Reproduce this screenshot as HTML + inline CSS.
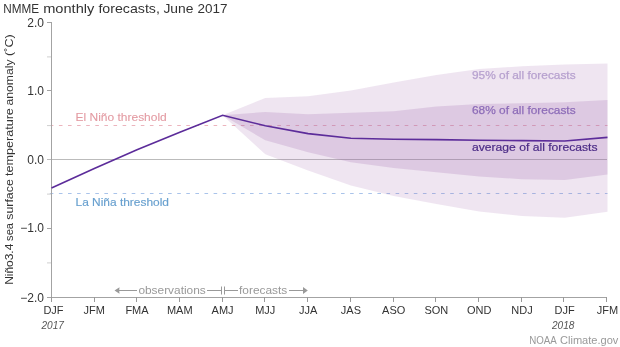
<!DOCTYPE html>
<html><head><meta charset="utf-8"><style>
html,body{margin:0;padding:0;background:#fff;width:620px;height:347px;overflow:hidden}
svg{display:block;will-change:transform;font-family:"Liberation Sans",sans-serif}
</style></head><body>
<svg width="620" height="347" viewBox="0 0 620 347">
<rect width="620" height="347" fill="#fff"/>
<line x1="47" y1="159.5" x2="607" y2="159.5" stroke="#bbb" stroke-width="1"/>
<line x1="49.8" y1="125.5" x2="607.5" y2="125.5" stroke="#ecb4bd" stroke-width="1" stroke-dasharray="3.6 5.5"/>
<line x1="49.8" y1="193.5" x2="607.5" y2="193.5" stroke="#a9c3ea" stroke-width="1" stroke-dasharray="3.6 5.5"/>
<polygon points="222.6,115.3 265.3,98.0 308.1,96.2 350.9,90.4 393.7,82.4 436.4,74.9 479.2,69.0 522.0,66.3 564.7,64.6 607.5,63.5 607.5,211.8 564.7,217.8 522.0,216.0 479.2,211.4 436.4,204.0 393.7,196.0 350.9,185.4 308.1,170.4 265.3,154.3 222.6,115.3" fill="#9e65ac" fill-opacity="0.17"/>
<polygon points="222.6,115.3 265.3,112.0 308.1,114.3 350.9,112.8 393.7,111.3 436.4,106.5 479.2,104.1 522.0,103.2 564.7,102.3 607.5,99.9 607.5,174.5 564.7,179.9 522.0,179.2 479.2,176.5 436.4,172.2 393.7,168.0 350.9,162.3 308.1,152.2 265.3,140.3 222.6,115.3" fill="#9e65ac" fill-opacity="0.217"/>
<g stroke="#a3a3a3" stroke-width="1" fill="none">
<line x1="51.5" y1="22" x2="51.5" y2="297.5"/>
<line x1="47" y1="297.5" x2="607" y2="297.5"/>
<line x1="47" y1="22.5" x2="51.5" y2="22.5"/>
<line x1="47" y1="90.5" x2="51.5" y2="90.5"/>
<line x1="47" y1="228.5" x2="51.5" y2="228.5"/>
</g>
<g stroke="#cfcfcf" stroke-width="1">
<line x1="47" y1="56.9" x2="51" y2="56.9"/>
<line x1="47" y1="125.6" x2="51" y2="125.6"/>
<line x1="47" y1="194.1" x2="51" y2="194.1"/>
<line x1="47" y1="262.9" x2="51" y2="262.9"/>
</g>
<g stroke="#999" stroke-width="1"><line x1="51.5" y1="297" x2="51.5" y2="302"/><line x1="94.5" y1="297" x2="94.5" y2="302"/><line x1="136.5" y1="297" x2="136.5" y2="302"/><line x1="179.5" y1="297" x2="179.5" y2="302"/><line x1="222.5" y1="297" x2="222.5" y2="302"/><line x1="264.5" y1="297" x2="264.5" y2="302"/><line x1="307.5" y1="297" x2="307.5" y2="302"/><line x1="350.5" y1="297" x2="350.5" y2="302"/><line x1="393.5" y1="297" x2="393.5" y2="302"/><line x1="435.5" y1="297" x2="435.5" y2="302"/><line x1="478.5" y1="297" x2="478.5" y2="302"/><line x1="521.5" y1="297" x2="521.5" y2="302"/><line x1="563.5" y1="297" x2="563.5" y2="302"/><line x1="606.5" y1="297" x2="606.5" y2="302"/></g>
<polyline points="51.5,188.0 94.3,168.6 137.0,149.8 179.8,132.2 222.6,115.3 265.3,125.8 308.1,133.6 350.9,138.2 393.7,139.3 436.4,139.6 479.2,140.2 522.0,140.6 564.7,141.0 607.5,137.4" fill="none" stroke="#5c2c9a" stroke-width="1.6" stroke-linejoin="miter"/>
<g font-size="13.5" fill="#333" lengthAdjust="spacingAndGlyphs">
<text x="3.2" y="12.8" textLength="35.8" lengthAdjust="spacingAndGlyphs">NMME</text>
<text x="43.2" y="12.8" textLength="51.2" lengthAdjust="spacingAndGlyphs">monthly</text>
<text x="98.4" y="12.8" textLength="61.5" lengthAdjust="spacingAndGlyphs">forecasts,</text>
<text x="163.4" y="12.8" textLength="30" lengthAdjust="spacingAndGlyphs">June</text>
<text x="197.4" y="12.8" textLength="30" lengthAdjust="spacingAndGlyphs">2017</text>
</g>
<g font-size="12" fill="#333" text-anchor="end">
<text x="44" y="27">2.0</text>
<text x="44" y="95.1">1.0</text>
<text x="44" y="164.4">0.0</text>
<text x="44" y="232.2">−1.0</text>
<text x="44" y="302">−2.0</text>
</g>
<g font-size="11.2" fill="#333">
<text transform="translate(12.6,284.84) rotate(-90)" textLength="41.18" lengthAdjust="spacingAndGlyphs">Niño3.4</text>
<text transform="translate(12.6,240.88) rotate(-90)" textLength="17.84" lengthAdjust="spacingAndGlyphs">sea</text>
<text transform="translate(12.6,219.76) rotate(-90)" textLength="40.56" lengthAdjust="spacingAndGlyphs">surface</text>
<text transform="translate(12.6,175.96) rotate(-90)" textLength="67.80" lengthAdjust="spacingAndGlyphs">temperature</text>
<text transform="translate(12.6,105.38) rotate(-90)" textLength="45.84" lengthAdjust="spacingAndGlyphs">anomaly</text>
<text transform="translate(12.6,55.88) rotate(-90)" textLength="21.68" lengthAdjust="spacingAndGlyphs">(˚C)</text>
</g>
<g font-size="11" fill="#333"><text x="53.5" y="314" text-anchor="middle">DJF</text><text x="94.3" y="314" text-anchor="middle">JFM</text><text x="137.0" y="314" text-anchor="middle">FMA</text><text x="179.8" y="314" text-anchor="middle">MAM</text><text x="222.6" y="314" text-anchor="middle">AMJ</text><text x="265.3" y="314" text-anchor="middle">MJJ</text><text x="308.1" y="314" text-anchor="middle">JJA</text><text x="350.9" y="314" text-anchor="middle">JAS</text><text x="393.7" y="314" text-anchor="middle">ASO</text><text x="436.4" y="314" text-anchor="middle">SON</text><text x="479.2" y="314" text-anchor="middle">OND</text><text x="522.0" y="314" text-anchor="middle">NDJ</text><text x="564.7" y="314" text-anchor="middle">DJF</text><text x="607.5" y="314" text-anchor="middle">JFM</text></g>
<g font-size="11" fill="#555" font-style="italic">
<text x="41.5" y="329" textLength="22.5" lengthAdjust="spacingAndGlyphs">2017</text>
<text x="552" y="328.5" textLength="22.5" lengthAdjust="spacingAndGlyphs">2018</text>
</g>
<text x="75.5" y="121.3" font-size="11.7" fill="#e39aa2" stroke="#e39aa2" stroke-width="0.08" textLength="91.3" lengthAdjust="spacingAndGlyphs">El Niño threshold</text>
<text x="75.5" y="206.4" font-size="11.7" fill="#68a0cf" stroke="#68a0cf" stroke-width="0.15" textLength="93.5" lengthAdjust="spacingAndGlyphs">La Niña threshold</text>
<text x="472" y="79.2" font-size="11.5" fill="#b7a1cf" stroke="#b7a1cf" stroke-width="0.25" textLength="103.6" lengthAdjust="spacingAndGlyphs">95% of all forecasts</text>
<text x="472" y="114.3" font-size="11.5" fill="#8d6cb8" stroke="#8d6cb8" stroke-width="0.25" textLength="103.6" lengthAdjust="spacingAndGlyphs">68% of all forecasts</text>
<text x="472" y="150.8" font-size="11.5" fill="#4b2b86" stroke="#4b2b86" stroke-width="0.2" textLength="125.5" lengthAdjust="spacingAndGlyphs">average of all forecasts</text>
<g stroke="#999" stroke-width="1" fill="none">
<line x1="116" y1="290.5" x2="137" y2="290.5"/>
<line x1="207" y1="290.5" x2="221.5" y2="290.5"/>
<line x1="224.5" y1="290.5" x2="238" y2="290.5"/>
<line x1="289" y1="290.5" x2="304" y2="290.5"/>
<line x1="221.5" y1="286.5" x2="221.5" y2="294.5"/>
<line x1="224.5" y1="286.5" x2="224.5" y2="294.5"/>
</g>
<polygon points="114.5,290.5 119.5,287.2 119.2,290.5 119.5,293.8" fill="#999"/>
<polygon points="307.8,290.5 303,287.1 303,293.9" fill="#999"/>
<g font-size="11.5" fill="#999">
<text x="138.4" y="293.6" textLength="67.4" lengthAdjust="spacingAndGlyphs">observations</text>
<text x="239" y="293.6" textLength="48.3" lengthAdjust="spacingAndGlyphs">forecasts</text>
</g>
<g font-size="11.5" fill="#999"><text x="529.2" y="343.5" textLength="27.6" lengthAdjust="spacingAndGlyphs">NOAA</text><text x="560" y="343.5" textLength="58.4" lengthAdjust="spacingAndGlyphs">Climate.gov</text></g>
</svg>
</body></html>
